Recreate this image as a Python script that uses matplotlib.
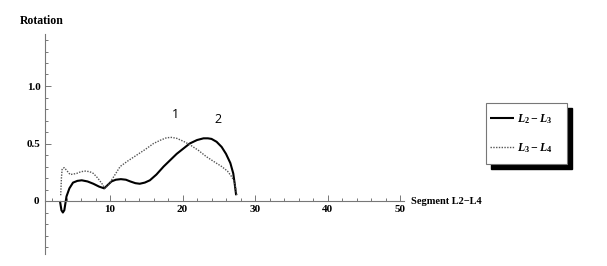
import matplotlib
matplotlib.use('Agg')
import matplotlib.pyplot as plt
from matplotlib.patches import Rectangle
from matplotlib.ticker import FixedLocator

# L2 - L3 (solid)
x_l23 = [3.1, 3.3, 3.5, 3.7, 4.0, 4.4, 4.9, 5.5, 6.1, 6.9, 7.7, 8.5, 9.2, 9.7, 10.2,
         10.8, 11.5, 12.2, 12.8, 13.5, 14.1, 14.8, 15.5, 16.4, 17.4, 18.3, 19.2, 20.1,
         21.0, 22.0, 22.9, 23.5, 24.0, 24.7, 25.4, 26.0, 26.6, 27.0, 27.2, 27.4]
y_l23 = [0.0, -0.08, -0.10, -0.08, 0.04, 0.11, 0.16, 0.175, 0.18, 0.17, 0.15, 0.125, 0.11, 0.14, 0.17,
         0.185, 0.19, 0.185, 0.17, 0.155, 0.15, 0.16, 0.18, 0.23, 0.30, 0.355, 0.41, 0.455,
         0.50, 0.53, 0.545, 0.545, 0.54, 0.515, 0.47, 0.41, 0.33, 0.24, 0.15, 0.05]

# L3 - L4 (dotted)
x_l34 = [3.2, 3.3, 3.4, 3.7, 4.1, 4.5, 5.0, 5.4, 6.0, 6.6, 7.2, 7.7, 8.3, 8.9, 9.3,
         9.8, 10.2, 10.8, 11.4, 12.5, 13.7, 14.9, 16.0, 17.0, 17.8, 18.5, 19.2, 20.1,
         21.0, 22.2, 23.3, 24.4, 25.4, 26.2, 26.8, 27.2, 27.5]
y_l34 = [0.05, 0.20, 0.28, 0.29, 0.26, 0.23, 0.235, 0.24, 0.255, 0.26, 0.255, 0.24, 0.20, 0.15, 0.11,
         0.14, 0.18, 0.24, 0.30, 0.35, 0.40, 0.45, 0.50, 0.53, 0.55, 0.553, 0.545, 0.52,
         0.49, 0.44, 0.385, 0.34, 0.30, 0.26, 0.21, 0.16, 0.05]

x_major = [10, 20, 30, 40, 50]
y_major = [0.5, 1.0]

plt.rcParams['font.family'] = ['Liberation Serif', 'DejaVu Serif']
plt.rcParams['mathtext.fontset'] = 'custom'
plt.rcParams['mathtext.rm'] = 'Liberation Serif:bold'
plt.rcParams['mathtext.it'] = 'Liberation Serif:italic:bold'

fig = plt.figure(figsize=(6.07, 2.66), dpi=100)
ax = fig.add_axes([30.25 / 607, 7.5 / 266, 377 / 607, 230 / 266])
ax.set_xlim(-1, 51)
ax.set_ylim(-0.5, 1.5)

ax.plot(x_l23, y_l23, color='black', lw=1.5, label=r'$L_2 - L_3$', solid_capstyle='butt')
ax.plot(x_l34, y_l34, color='#555555', lw=1.0, ls=(0, (1, 1)), label=r'$L_3 - L_4$')

for s in ['top', 'right']:
    ax.spines[s].set_visible(False)
ax.spines['left'].set_position(('data', 1))
ax.spines['bottom'].set_position(('data', 0))
ax.spines['left'].set_bounds(-0.46, 1.45)
ax.spines['bottom'].set_bounds(1, 50.6)
for s in ['left', 'bottom']:
    ax.spines[s].set_color('#777777')
    ax.spines[s].set_linewidth(0.8)

ax.xaxis.set_major_locator(FixedLocator(x_major))
ax.xaxis.set_minor_locator(FixedLocator([v for v in range(2, 51, 2) if v % 10]))
ax.yaxis.set_major_locator(FixedLocator(y_major))
ax.yaxis.set_minor_locator(FixedLocator([v / 10 for v in range(-4, 15) if v not in (0, 5, 10)]))
ax.tick_params(which='both', direction='in', color='#777777', width=0.7)
ax.tick_params(which='major', length=4, labelsize=8, pad=3)
ax.tick_params(which='minor', length=2)
ax.set_xticklabels([str(v) for v in x_major], fontweight='bold')
ax.set_yticklabels(['0.5', '1.0'], fontweight='bold')
ax.text(-0.2, 0, '0', ha='center', va='center', fontsize=8, fontweight='bold')

fig.text(20 / 607, 1 - 21 / 266, 'Rotation', fontsize=8.5, fontweight='bold', va='center')
ax.text(51.5, 0, 'Segment L2\u2212L4', fontsize=7.5, fontweight='bold', va='center',
        ha='left', clip_on=False)

ax.text(19.0, 0.75, '1', fontsize=9, family='Open Sans', ha='center', va='center')
ax.text(24.9, 0.71, '2', fontsize=9, family='Open Sans', ha='center', va='center')

# legend box with black drop shadow (pixel coords)
lx0, ly0, lw_, lh_ = 486, 266 - 164, 81, 61
fig.patches.append(Rectangle(((lx0 + 5) / 607, (ly0 - 5) / 266), lw_ / 607, lh_ / 266,
                             transform=fig.transFigure, facecolor='black', edgecolor='black', zorder=1))
fig.patches.append(Rectangle((lx0 / 607, ly0 / 266), lw_ / 607, lh_ / 266,
                             transform=fig.transFigure, facecolor='white', edgecolor='#777777',
                             lw=0.8, zorder=2))
handles, labels = ax.get_legend_handles_labels()
leg = fig.legend(handles, labels, loc='center left',
                 bbox_to_anchor=((lx0 + 4) / 607, (ly0 + lh_ / 2) / 266),
                 frameon=False, fontsize=8.5, borderpad=0, borderaxespad=0,
                 handlelength=2.0, handletextpad=0.3, labelspacing=1.3)
leg.set_zorder(3)

fig.savefig('out.png', dpi=100)
